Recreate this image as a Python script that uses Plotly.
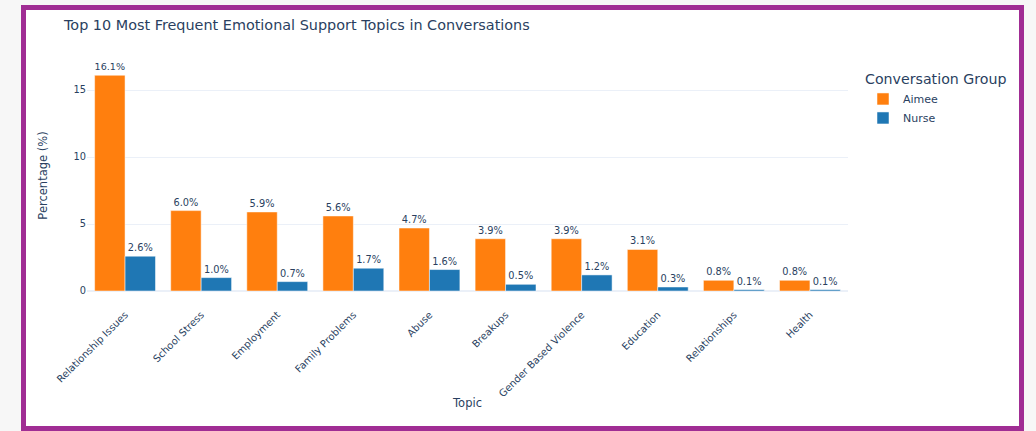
import plotly.graph_objects as go

topics = ['Relationship Issues', 'School Stress', 'Employment', 'Family Problems', 'Abuse',
          'Breakups', 'Gender Based Violence', 'Education', 'Relationships', 'Health']
aimee_pct = [16.1, 6.0, 5.9, 5.6, 4.7, 3.9, 3.9, 3.1, 0.8, 0.8]
nurse_pct = [2.6, 1.0, 0.7, 1.7, 1.6, 0.5, 1.2, 0.3, 0.1, 0.1]
y_ticks = [0, 5, 10, 15]

W, H = 1036, 431
L, R, T, B = 87, 188, 60, 140
pw, ph = W - L - R, H - T - B

def px(x):
    return (x - L) / pw

def py(y):
    return (H - B - y) / ph

font = 'DejaVu Sans, Verdana, sans-serif'
txt = '#2a3f5f'

fig = go.Figure()
for name, vals, col in [('Aimee', aimee_pct, '#ff7f0e'), ('Nurse', nurse_pct, '#1f77b4')]:
    fig.add_trace(go.Bar(
        x = topics,
        y = vals,
        name = name,
        marker = dict(color = col, line = dict(color = 'white', width = 0.5)),
        text = [f'{v:.1f}%' for v in vals],
        textposition = 'outside',
        textfont = dict(size = 9.8, color = txt),
        cliponaxis = False
    ))

# purple frame around the card
fig.add_shape(type = 'rect', xref = 'paper', yref = 'paper',
    x0 = px(23.5), x1 = px(1021.5), y0 = py(428.5), y1 = py(7.5),
    line = dict(color = '#a02d94', width = 5), fillcolor = 'white', layer = 'below')

fig.update_layout(
    width = W, height = H,
    margin = dict(l = L, r = R, t = T, b = B),
    template = 'plotly_white',
    paper_bgcolor = '#f7f7f7',
    plot_bgcolor = 'rgba(0,0,0,0)',
    font = dict(family = font, color = txt, size = 9.6),
    title = dict(text = 'Top 10 Most Frequent Emotional Support Topics in Conversations',
                 x = 64 / W, xanchor = 'left', y = 1 - 25 / H, yanchor = 'middle',
                 font = dict(size = 14.4, color = txt)),
    barmode = 'group',
    legend = dict(title = dict(text = 'Conversation Group', font = dict(size = 14.2)),
                  font = dict(size = 11), x = px(863), xanchor = 'left', y = py(66), yanchor = 'top',
                  bgcolor = 'rgba(0,0,0,0)'),
    showlegend = True
)

fig.update_xaxes(title = dict(text = 'Topic', font = dict(size = 11.5), standoff = 0),
                 tickangle = -45, tickfont = dict(size = 10), ticklabelstandoff = 15)
fig.update_yaxes(title = dict(text = 'Percentage (%)', font = dict(size = 11.5), standoff = 23),
                 range = [0, ph / 13.4], tickvals = y_ticks, tickfont = dict(size = 9.8))

fig.write_html('out.html', config = {'displayModeBar': False},
               post_script = "document.body.style.margin = '0'; document.body.style.overflow = 'hidden';")
